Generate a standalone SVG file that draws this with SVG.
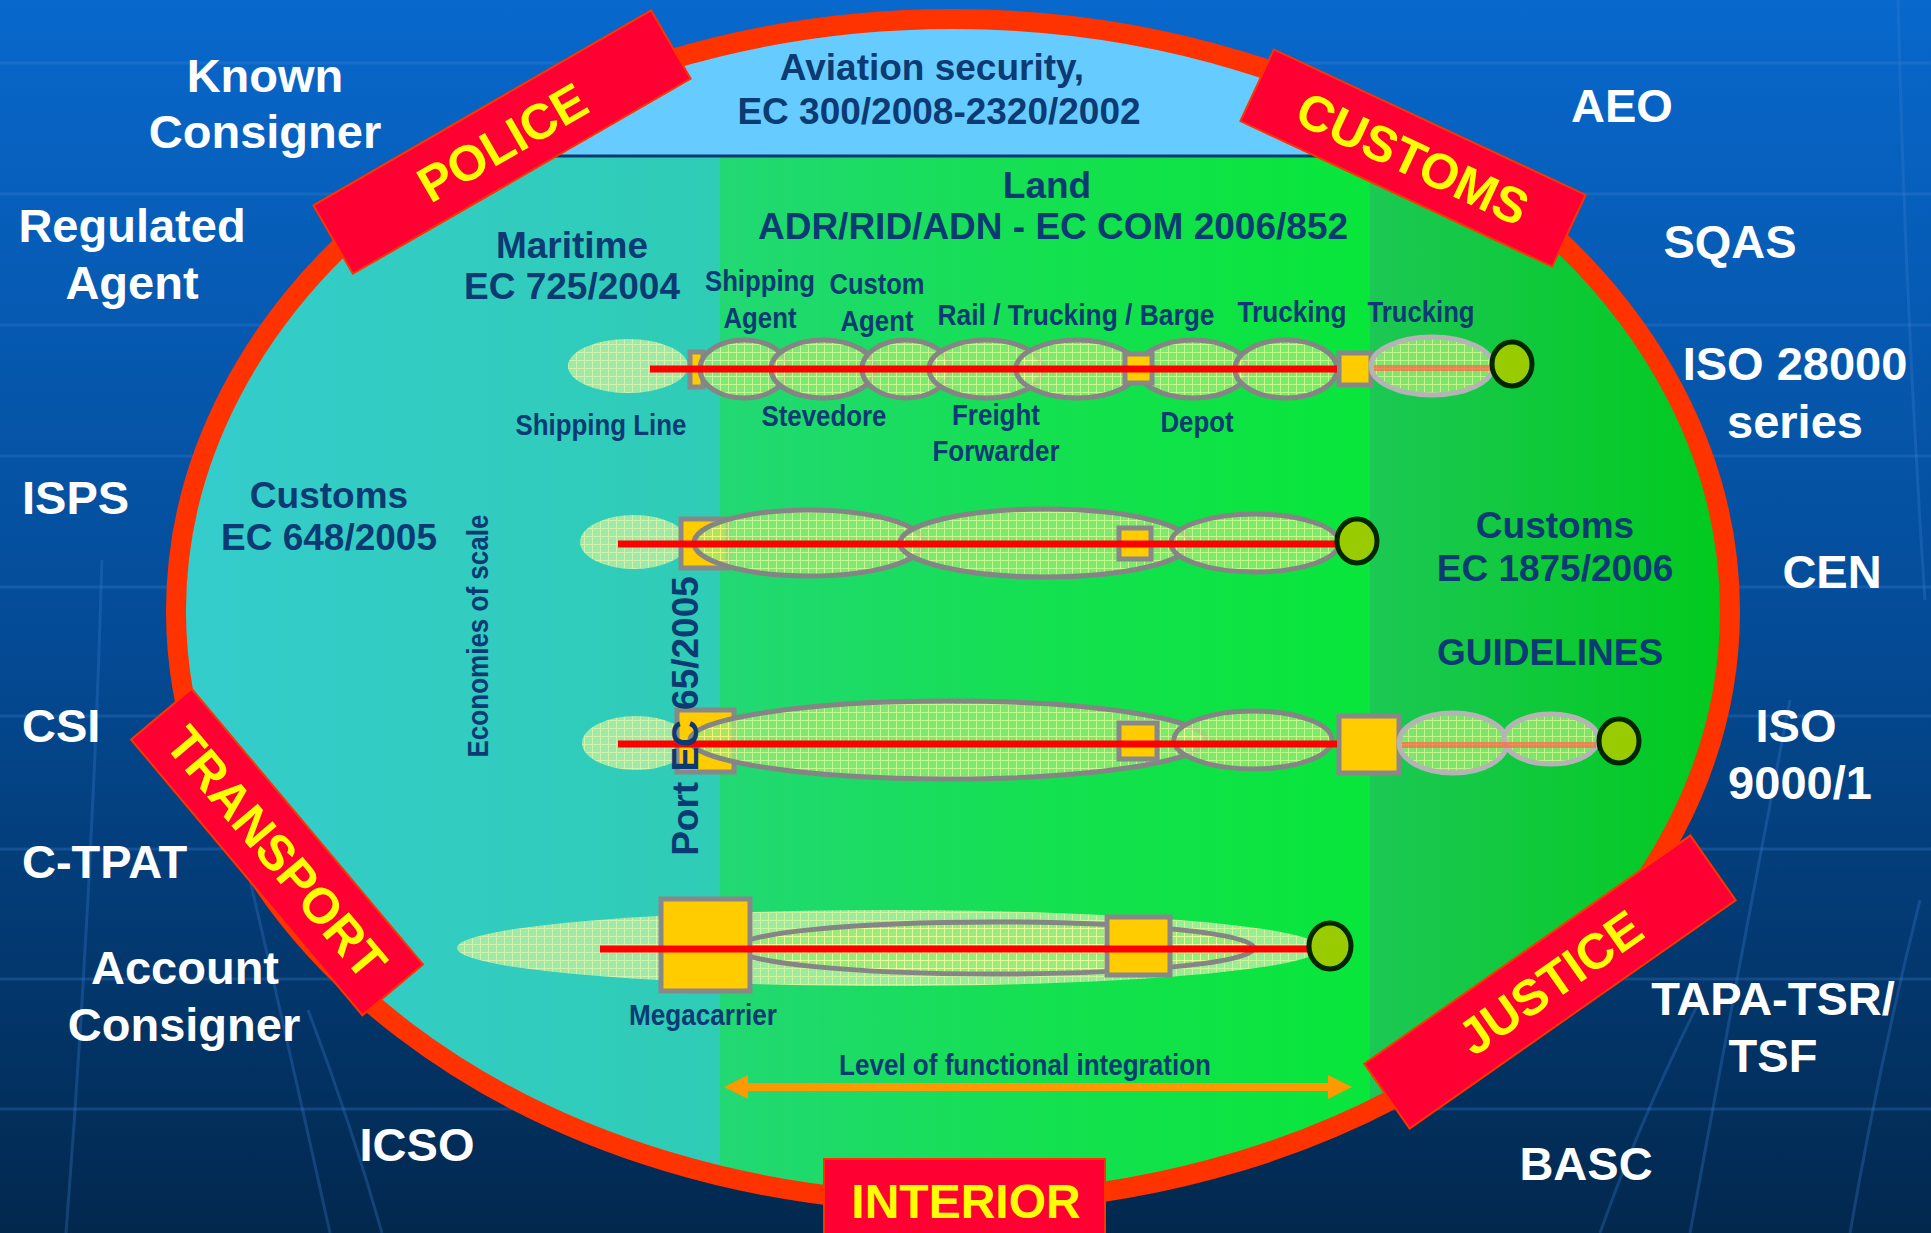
<svg xmlns="http://www.w3.org/2000/svg" width="1931" height="1233" viewBox="0 0 1931 1233">
<defs>
<style>
text{font-family:"Liberation Sans",Arial,sans-serif;font-weight:bold}
.w{fill:#fff;font-size:47px;text-anchor:middle}
.wl{fill:#fff;font-size:47px}
.d{fill:#0C3A72;font-size:37px;text-anchor:middle}
.s{fill:#0C3A72;font-size:29px;text-anchor:middle}
.y{fill:#FFFF00;font-size:50px;text-anchor:middle}
.band{fill:#FF0033;stroke:#FF3300;stroke-width:2}
.pale{fill:url(#gridPale);fill-opacity:.85}
.ch{fill:url(#grid);fill-opacity:.8;stroke:#858585;stroke-width:5}
.chl{fill:url(#grid);fill-opacity:.8;stroke:#B4B4B4;stroke-width:5}
.sq{fill:#FFCC00;stroke:#888;stroke-width:5}
.rl{stroke:#FF0000;stroke-width:7}
.fr{stroke:#FF6A48;stroke-opacity:.75;stroke-width:6}
.dot{fill:#99CC00;stroke:#002600;stroke-width:5}
.gl{fill:none;stroke:#3A7ED2;stroke-opacity:.3;stroke-width:3}
</style>
<linearGradient id="bg" x1="0" y1="0" x2="0" y2="1">
<stop offset="0" stop-color="#0868CC"/><stop offset="0.5" stop-color="#044C98"/><stop offset="1" stop-color="#02284E"/>
</linearGradient>
<linearGradient id="teal" gradientUnits="userSpaceOnUse" x1="180" y1="0" x2="720" y2="0">
<stop offset="0" stop-color="#35CCCC"/><stop offset="1" stop-color="#2FCCB6"/>
</linearGradient>
<linearGradient id="green" gradientUnits="userSpaceOnUse" x1="720" y1="0" x2="1370" y2="0">
<stop offset="0" stop-color="#22D874"/><stop offset="0.5" stop-color="#14E050"/><stop offset="1" stop-color="#08E63A"/>
</linearGradient>
<linearGradient id="green2" gradientUnits="userSpaceOnUse" x1="1370" y1="0" x2="1730" y2="0">
<stop offset="0" stop-color="#1CC854"/><stop offset="1" stop-color="#00CA1C"/>
</linearGradient>
<clipPath id="inner"><ellipse cx="953" cy="611" rx="777" ry="592"/></clipPath>
<pattern id="grid" width="8" height="8" patternUnits="userSpaceOnUse"><rect width="8" height="8" fill="#96EC78"/><path d="M0 .5H8M.5 0V8" stroke="#EEFF99" stroke-width="1"/></pattern>
<pattern id="gridPale" width="8" height="8" patternUnits="userSpaceOnUse"><rect width="8" height="8" fill="#B2EEA8"/><path d="M0 .5H8M.5 0V8" stroke="#EEFAA8" stroke-width="1"/></pattern>
<marker id="ah" viewBox="0 0 24 24" refX="8" refY="12" markerWidth="24" markerHeight="24" markerUnits="userSpaceOnUse" orient="auto-start-reverse"><path d="M0 0L24 12L0 24z" fill="#FF9900"/></marker>
</defs>

<g id="background">
<rect width="1931" height="1233" fill="url(#bg)"/>
<path class="gl" d="M0 63H1931M0 194H1931M0 325H1931M0 456H1931M0 587H1931M0 716H1931M0 849H1931M0 979H1931M0 1109H1931"/>
<path class="gl" d="M102 560Q92 900 66 1233M250 880Q292 1060 330 1233M308 1010Q350 1120 382 1233M1790 700Q1740 960 1690 1233M1700 1000Q1640 1120 1600 1233M1920 900Q1880 1060 1850 1233M1898 0Q1905 300 1925 600"/>
</g>

<g id="sphere">
<g clip-path="url(#inner)">
<rect x="0" y="0" width="720" height="1233" fill="url(#teal)"/>
<rect x="720" y="0" width="650" height="1233" fill="url(#green)"/>
<rect x="1370" y="0" width="561" height="1233" fill="url(#green2)"/>
<rect x="0" y="0" width="1931" height="156" fill="#66CCFF"/>
<path d="M0 156H1931" stroke="#0B3A70" stroke-width="3"/>
</g>
<ellipse cx="953" cy="611" rx="777" ry="592" fill="none" stroke="#FF3300" stroke-width="20"/>
</g>

<g id="row1">
<ellipse class="pale" cx="628" cy="366" rx="60" ry="27"/>
<rect class="sq" x="690" y="352" width="13" height="35" stroke-width="4"/>
<ellipse class="ch" cx="744" cy="369" rx="44" ry="29"/>
<ellipse class="ch" cx="823" cy="369" rx="52" ry="29"/>
<ellipse class="ch" cx="906" cy="369" rx="44" ry="29"/>
<ellipse class="ch" cx="986" cy="369" rx="57" ry="29"/>
<ellipse class="ch" cx="1077" cy="369" rx="61" ry="29"/>
<ellipse class="ch" cx="1193" cy="369" rx="55" ry="29"/>
<ellipse class="ch" cx="1286" cy="369" rx="51" ry="29"/>
<rect class="sq" x="1125" y="354" width="27" height="29"/>
<rect class="sq" x="1339" y="353" width="32" height="32"/>
<ellipse class="chl" cx="1432" cy="366" rx="61" ry="29"/>
<path class="fr" d="M1374 368H1491"/>
</g>

<g id="row2">
<ellipse class="pale" cx="634" cy="542" rx="54" ry="27"/>
<rect class="sq" x="681" y="519" width="47" height="49"/>
<ellipse class="ch" cx="809" cy="543" rx="115" ry="33"/>
<ellipse class="ch" cx="1045" cy="543" rx="145" ry="34"/>
<ellipse class="ch" cx="1255" cy="543" rx="84" ry="29"/>
<rect class="sq" x="1119" y="528" width="32" height="31"/>
</g>

<g id="row3">
<ellipse class="pale" cx="636" cy="743" rx="54" ry="27"/>
<rect class="sq" x="677" y="710" width="57" height="62"/>
<ellipse class="ch" cx="948" cy="740" rx="258" ry="39"/>
<ellipse class="ch" cx="1253" cy="740" rx="79" ry="29"/>
<rect class="sq" x="1119" y="723" width="38" height="36"/>
<rect class="sq" x="1339" y="716" width="60" height="57"/>
<ellipse class="chl" cx="1453" cy="743" rx="54" ry="30"/>
<ellipse class="chl" cx="1551" cy="739" rx="47" ry="25"/>
<path class="fr" d="M1402 745H1596"/>
</g>

<g id="row4">
<ellipse class="pale" cx="889" cy="948" rx="432" ry="38"/>
<ellipse class="ch" cx="995" cy="948" rx="259" ry="26"/>
<rect class="sq" x="661" y="899" width="89" height="92"/>
<rect class="sq" x="1107" y="917" width="63" height="58"/>
</g>

<g id="connectors">
<path class="rl" d="M650 369H1337"/>
<path class="rl" d="M618 544H1337"/>
<path class="rl" d="M618 744H1337"/>
<path class="rl" d="M600 949H1315"/>
<path d="M740 1087H1336" stroke="#FF9900" stroke-width="8" marker-start="url(#ah)" marker-end="url(#ah)"/>
</g>

<g id="end-points">
<ellipse class="dot" cx="1512" cy="364" rx="20" ry="22"/>
<ellipse class="dot" cx="1357" cy="541" rx="20" ry="22"/>
<ellipse class="dot" cx="1619" cy="741" rx="20" ry="22"/>
<ellipse class="dot" cx="1330" cy="946" rx="21" ry="23"/>
</g>

<g id="inner-labels">
<text class="d" x="932" y="80">Aviation security,</text>
<text class="d" x="939" y="124">EC 300/2008-2320/2002</text>
<text class="d" x="1047" y="198">Land</text>
<text class="d" x="1053" y="239">ADR/RID/ADN - EC COM 2006/852</text>
<text class="d" x="572" y="258">Maritime</text>
<text class="d" x="572" y="299">EC 725/2004</text>
<text class="d" x="329" y="508">Customs</text>
<text class="d" x="329" y="550">EC 648/2005</text>
<text class="d" x="1555" y="538">Customs</text>
<text class="d" x="1555" y="581">EC 1875/2006</text>
<text class="d" x="1550" y="665">GUIDELINES</text>
<text class="s" x="760" y="291" textLength="110" lengthAdjust="spacingAndGlyphs">Shipping</text>
<text class="s" x="760" y="328" textLength="73" lengthAdjust="spacingAndGlyphs">Agent</text>
<text class="s" x="877" y="294" textLength="95" lengthAdjust="spacingAndGlyphs">Custom</text>
<text class="s" x="877" y="331" textLength="73" lengthAdjust="spacingAndGlyphs">Agent</text>
<text class="s" x="1076" y="325" textLength="277" lengthAdjust="spacingAndGlyphs">Rail / Trucking / Barge</text>
<text class="s" x="1292" y="322" textLength="109" lengthAdjust="spacingAndGlyphs">Trucking</text>
<text class="s" x="1421" y="322" textLength="107" lengthAdjust="spacingAndGlyphs">Trucking</text>
<text class="s" x="601" y="435" textLength="171" lengthAdjust="spacingAndGlyphs">Shipping Line</text>
<text class="s" x="824" y="426" textLength="125" lengthAdjust="spacingAndGlyphs">Stevedore</text>
<text class="s" x="996" y="425" textLength="88" lengthAdjust="spacingAndGlyphs">Freight</text>
<text class="s" x="996" y="461" textLength="127" lengthAdjust="spacingAndGlyphs">Forwarder</text>
<text class="s" x="1197" y="432" textLength="73" lengthAdjust="spacingAndGlyphs">Depot</text>
<text class="s" x="703" y="1025" textLength="148" lengthAdjust="spacingAndGlyphs">Megacarrier</text>
<text class="s" x="1025" y="1075" textLength="372" lengthAdjust="spacingAndGlyphs">Level of functional integration</text>
<text class="s" transform="translate(488,636) rotate(-90)" x="0" y="0" textLength="243" lengthAdjust="spacingAndGlyphs">Economies of scale</text>
<text class="d" transform="translate(698,716) rotate(-90)" x="0" y="0">Port EC 65/2005</text>
</g>

<g id="outer-labels">
<text class="w" x="265" y="92">Known</text>
<text class="w" x="265" y="148">Consigner</text>
<text class="w" x="132" y="242">Regulated</text>
<text class="w" x="132" y="299">Agent</text>
<text class="wl" x="22" y="514">ISPS</text>
<text class="wl" x="22" y="742">CSI</text>
<text class="wl" x="22" y="878">C-TPAT</text>
<text class="w" x="185" y="984">Account</text>
<text class="w" x="184" y="1041">Consigner</text>
<text class="w" x="417" y="1161">ICSO</text>
<text class="w" x="1622" y="122">AEO</text>
<text class="w" x="1730" y="258">SQAS</text>
<text class="w" x="1795" y="380">ISO 28000</text>
<text class="w" x="1795" y="438">series</text>
<text class="w" x="1832" y="588">CEN</text>
<text class="w" x="1796" y="742">ISO</text>
<text class="w" x="1800" y="799">9000/1</text>
<text class="w" x="1773" y="1015">TAPA-TSR/</text>
<text class="w" x="1773" y="1072">TSF</text>
<text class="w" x="1586" y="1180">BASC</text>
</g>

<g id="police" transform="translate(502,142) rotate(-30)">
<rect class="band" x="-195" y="-39.5" width="390" height="79"/>
<text class="y" x="0" y="18">POLICE</text>
</g>
<g id="customs" transform="translate(1413,158) rotate(25)">
<rect class="band" x="-172" y="-39.5" width="344" height="79"/>
<text class="y" x="0" y="18">CUSTOMS</text>
</g>
<g id="transport" transform="translate(277,852) rotate(50)">
<rect class="band" x="-180" y="-39.5" width="360" height="79"/>
<text class="y" x="0" y="18">TRANSPORT</text>
</g>
<g id="justice" transform="translate(1550,982) rotate(-35)">
<rect class="band" x="-199" y="-39.5" width="398" height="79"/>
<text class="y" x="0" y="18">JUSTICE</text>
</g>
<g id="interior">
<rect class="band" x="824" y="1159" width="281" height="80"/>
<text class="y" x="966" y="1218" style="font-size:48px">INTERIOR</text>
</g>
</svg>
